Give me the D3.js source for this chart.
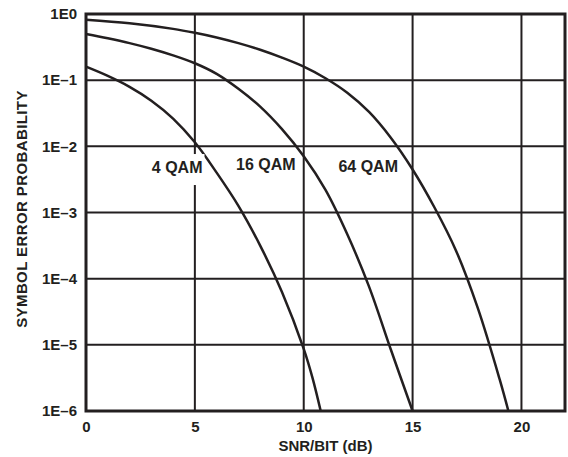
<!DOCTYPE html>
<html>
<head>
<meta charset="utf-8">
<script src="https://cdn.jsdelivr.net/npm/d3@7"></script>
<style>
  body { margin: 0; background: #fff; }
  svg text { font-family: "Liberation Sans", Arial, sans-serif; font-weight: bold; fill: #231f20; }
</style>
</head>
<body>
<div id="chart"></div>
<script>
// curve data: SNR per bit (dB) and symbol error probability
var snr4 = [0, 1, 2, 3, 4, 5, 6, 7, 8, 9, 10, 10.4, 10.78];
var ser4 = [0.16, 0.116, 0.0794, 0.049, 0.0263, 0.0115, 0.004, 0.00126, 0.000316, 0.000063, 0.0000087, 0.0000032, 0.000001];

var snr16 = [0, 1, 2, 3, 4, 5, 6, 7, 8, 9, 10, 11, 12, 13, 14, 15];
var ser16 = [0.5, 0.43, 0.363, 0.2985, 0.237, 0.18, 0.1245, 0.0741, 0.0398, 0.0182, 0.00708, 0.00219, 0.000468, 0.0000759, 0.0000085, 0.000001];

var snr64 = [0, 2, 4, 5, 6, 7, 8, 9, 10, 11, 12, 13, 14, 15, 16, 17, 18, 19, 19.4];
var ser64 = [0.82, 0.724, 0.596, 0.52, 0.442, 0.363, 0.288, 0.219, 0.16, 0.107, 0.0646, 0.0331, 0.0135, 0.00447, 0.0012, 0.000263, 0.0000355, 0.000003, 0.000001];

var curveNames = ["4 QAM", "16 QAM", "64 QAM"];
// label anchors (right end of text) in data units: dB, probability
var labelX = [5.35, 9.63, 14.33];
var labelY = [0.0048, 0.0054, 0.0049];

var xTicks = [0, 5, 10, 15, 20];
var yTicks = [1, 1e-1, 1e-2, 1e-3, 1e-4, 1e-5, 1e-6];
var yTickLabels = ["1E0", "1E\u20131", "1E\u20132", "1E\u20133", "1E\u20134", "1E\u20135", "1E\u20136"];

var ink = "#231f20";
var margin = { top: 14, right: 3, bottom: 46, left: 86 },
    W = 568, H = 457,
    width = W - margin.left - margin.right,
    height = H - margin.top - margin.bottom;

var svg = d3.select("#chart").append("svg")
    .attr("width", W)
    .attr("height", H)
    .append("g")
    .attr("transform", "translate(" + margin.left + "," + margin.top + ")");

var x = d3.scaleLinear().domain([0, 22]).range([0, width]);
var y = d3.scaleLog().domain([1e-6, 1]).range([height, 0]);

// grid lines
svg.selectAll(".vgrid").data(xTicks.slice(1))
    .enter().append("line")
    .attr("x1", function (d) { return x(d); })
    .attr("x2", function (d) { return x(d); })
    .attr("y1", 0).attr("y2", height)
    .attr("stroke", ink).attr("stroke-width", 2);

svg.selectAll(".hgrid").data(yTicks.slice(1, -1))
    .enter().append("line")
    .attr("x1", 0).attr("x2", width)
    .attr("y1", function (d) { return y(d); })
    .attr("y2", function (d) { return y(d); })
    .attr("stroke", ink).attr("stroke-width", 2);

// curves
var line = d3.line()
    .x(function (d) { return x(d[0]); })
    .y(function (d) { return y(d[1]); })
    .curve(d3.curveCatmullRom.alpha(0.5));

var series = [d3.zip(snr4, ser4), d3.zip(snr16, ser16), d3.zip(snr64, ser64)];

svg.selectAll(".curve").data(series)
    .enter().append("path")
    .attr("d", line)
    .attr("fill", "none")
    .attr("stroke", ink)
    .attr("stroke-width", 2.5);

// curve labels, the first one sits on a white box that cuts the grid line
curveNames.forEach(function (name, i) {
    var g = svg.append("g")
        .attr("transform", "translate(" + x(labelX[i]) + "," + y(labelY[i]) + ")");
    var t = g.append("text")
        .attr("text-anchor", "end")
        .attr("dy", "0.35em")
        .style("font-size", "16px")
        .text(name);
    if (i === 0) {
        var bb = t.node().getBBox();
        g.insert("rect", "text")
            .attr("x", bb.x - 2).attr("y", bb.y - 5)
            .attr("width", bb.width + 4).attr("height", bb.height + 14)
            .attr("fill", "#fff");
    }
});

// frame
svg.append("rect")
    .attr("x", 0).attr("y", 0)
    .attr("width", width).attr("height", height)
    .attr("fill", "none")
    .attr("stroke", ink).attr("stroke-width", 3);

// axes
var xAxis = d3.axisBottom(x).tickValues(xTicks).tickSize(0).tickPadding(10);
svg.append("g")
    .attr("transform", "translate(0," + height + ")")
    .call(xAxis)
    .call(function (g) { g.select(".domain").remove(); })
    .selectAll("text")
    .style("font-size", "15px")
    .style("font-family", "Liberation Sans, Arial, sans-serif")
    .attr("fill", ink);

var yAxis = d3.axisLeft(y).tickValues(yTicks)
    .tickFormat(function (d, i) { return yTickLabels[i]; })
    .tickSize(0).tickPadding(9);
svg.append("g")
    .call(yAxis)
    .call(function (g) { g.select(".domain").remove(); })
    .selectAll("text")
    .style("font-size", "15px")
    .style("font-family", "Liberation Sans, Arial, sans-serif")
    .attr("fill", ink);

// axis titles
svg.append("text")
    .attr("x", width / 2)
    .attr("y", height + 40)
    .attr("text-anchor", "middle")
    .style("font-size", "15px")
    .text("SNR/BIT (dB)");

svg.append("text")
    .attr("transform", "translate(" + (27 - margin.left) + "," + (209 - margin.top) + ") rotate(-90)")
    .attr("text-anchor", "middle")
    .style("font-size", "15px")
    .style("letter-spacing", "0.4px")
    .text("SYMBOL ERROR PROBABILITY");
</script>
</body>
</html>
